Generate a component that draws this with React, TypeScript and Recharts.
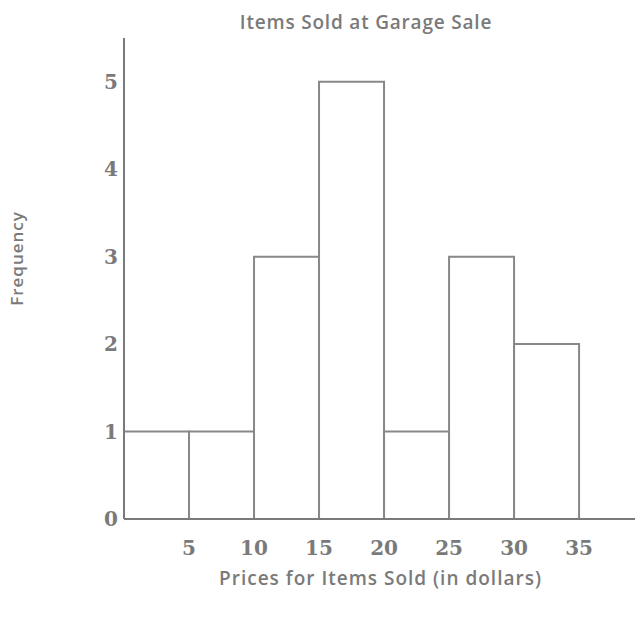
import { ComposedChart, Bar, XAxis, YAxis, Label } from 'recharts';

const binCenters = [2.5, 7.5, 12.5, 17.5, 22.5, 27.5, 32.5];
const frequencies = [1, 1, 3, 5, 1, 3, 2];
const xTicks = [5, 10, 15, 20, 25, 30, 35];
const yTicks = [0, 1, 2, 3, 4, 5];

const data = binCenters.map((x, i) => ({ price: x, count: frequencies[i] }));

const GRAY = '#7a7a7a';
const sans = '"Open Sans", "Noto Sans", sans-serif';
const serif = '"DejaVu Serif", "Liberation Serif", serif';

export default function App() {
  return (
    <div style={{ position: 'absolute', left: 0, top: 0, width: 635, height: 619, background: '#fff' }}>
      <div
        style={{
          position: 'absolute',
          top: 9,
          left: 200,
          width: 332,
          textAlign: 'center',
          fontFamily: sans,
          fontWeight: 600,
          fontSize: 19,
          letterSpacing: 0.8,
          color: GRAY,
        }}
      >
        Items Sold at Garage Sale
      </div>
      <ComposedChart
        width={635}
        height={619}
        data={data}
        margin={{ top: 38, right: 0, bottom: 0, left: 0 }}
        barCategoryGap={0}
        barGap={0}
      >
        <XAxis
          dataKey="price"
          type="number"
          domain={[0, 39.3]}
          ticks={xTicks}
          allowDataOverflow
          tickLine={false}
          axisLine={{ stroke: GRAY, strokeWidth: 2 }}
          tickMargin={16}
          tick={{ fill: GRAY, fontFamily: serif, fontSize: 20, fontWeight: 700 }}
          height={100}
        >
          <Label
            value="Prices for Items Sold (in dollars)"
            position="insideBottom"
            offset={34}
            dx={1}
            style={{ fill: GRAY, fontFamily: sans, fontWeight: 600, fontSize: 19, letterSpacing: 1 }}
          />
        </XAxis>
        <YAxis
          type="number"
          domain={[0, 5.5]}
          ticks={yTicks}
          width={124}
          tickLine={false}
          axisLine={{ stroke: GRAY, strokeWidth: 2 }}
          tick={{ fill: GRAY, fontFamily: serif, fontSize: 20, fontWeight: 700 }}
          tickMargin={0}
        >
          <Label
            value="Frequency"
            angle={-90}
            position="insideLeft"
            offset={17}
            dy={-20}
            style={{ fill: GRAY, fontFamily: sans, fontWeight: 600, fontSize: 17, letterSpacing: 1, textAnchor: 'middle' }}
          />
        </YAxis>
        <Bar dataKey="count" fill="#fff" stroke="#888" strokeWidth={2} isAnimationActive={false} />
      </ComposedChart>
    </div>
  );
}
